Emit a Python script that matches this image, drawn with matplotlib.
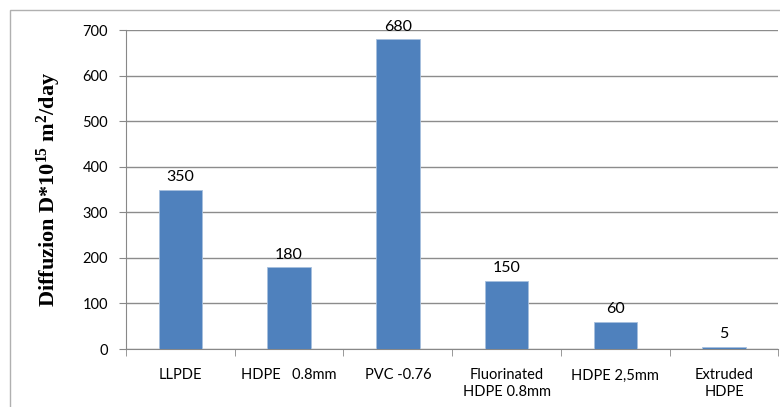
import matplotlib
matplotlib.use("Agg")
import matplotlib.pyplot as plt
from matplotlib.patches import Rectangle

categories = ["LLPDE", "HDPE   0.8mm", "PVC -0.76", "Fluorinated\nHDPE 0.8mm", "HDPE 2,5mm", "Extruded\nHDPE"]
values = [350, 180, 680, 150, 60, 5]
yticks = [0, 100, 200, 300, 400, 500, 600, 700]

plt.rcParams["mathtext.default"] = "regular"

fig = plt.figure(figsize=(7.8, 4.07), dpi=100)
ax = fig.add_axes([0.1615, 0.1425, 0.8365, 0.7835])

# outer chart frame
fig.patches.append(Rectangle((0.013, -0.01), 1.0, 0.985, transform=fig.transFigure,
                             fill=False, edgecolor="#b0b0b0", linewidth=1.0))

x = range(len(categories))
ax.bar(x, values, width=0.4, color="#4f81bd", edgecolor="#a7c0de", linewidth=0.6, zorder=3)
for xi, v in zip(x, values):
    ax.text(xi, v + 12, str(v), ha="center", va="bottom", fontsize=11.5, family="Lato", zorder=4)

ax.set_xlim(-0.5, len(categories) - 0.5)
ax.set_ylim(0, 700)
ax.set_yticks(yticks)
ax.set_yticklabels([str(t) for t in yticks], fontsize=10.5, family="Lato")
ax.set_xticks(list(x))
ax.set_xticklabels(categories, fontsize=10.5, family="Lato")
ax.tick_params(axis="x", length=0, pad=14)
ax.tick_params(axis="y", length=5, color="#888888", pad=8)

# category boundary ticks
ax.set_xticks([i - 0.5 for i in range(len(categories) + 1)], minor=True)
ax.tick_params(axis="x", which="minor", length=5, color="#888888")

ax.grid(axis="y", color="#8c8c8c", linewidth=1.0, zorder=0)
for s in ["top", "right"]:
    ax.spines[s].set_visible(False)
ax.spines["left"].set_color("#888888")
ax.spines["bottom"].set_color("#888888")

ax.set_ylabel(r"Diffuzion D*10$^{15}$ m$^{2}$/day", family="Liberation Serif",
              fontweight="bold", fontsize=16, labelpad=14)

fig.savefig("out.png", dpi=100)
